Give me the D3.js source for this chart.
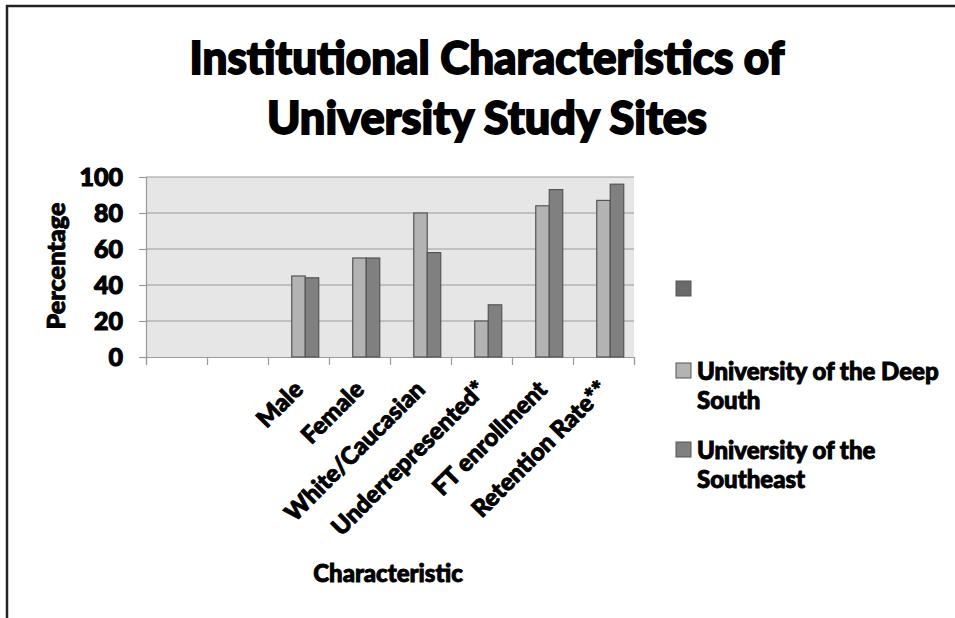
<!DOCTYPE html>
<html>
<head>
<meta charset="utf-8">
<script src="https://cdn.jsdelivr.net/npm/d3@7"></script>
<style>
  body { margin: 0; background: #fff; }
  text { font-family: Lato, "Open Sans", sans-serif; font-weight: 900; fill: #000; stroke: #000; stroke-width: 0.9px; }
</style>
</head>
<body>
<div id="chart"></div>
<script>
// data
var categories = ["", "", "Male", "Female", "White/Caucasian", "Underrepresented*", "FT enrollment", "Retention Rate**"];
var seriesNames = ["", "University of the Deep South", "University of the Southeast"];
var blankSeries = [null, null, null, null, null, null, null, null];
var deepSouth = [null, null, 45, 55, 80, 20, 84, 87];
var southeast = [null, null, 44, 55, 58, 29, 93, 96];
var yTicks = [0, 20, 40, 60, 80, 100];
var seriesColors = ["#6a6a6a", "#b3b3b3", "#808080"];

var width = 955, height = 618;
var margin = {top: 177, left: 146, right: 321, bottom: 261};

var svg = d3.select("#chart").append("svg")
    .attr("width", width)
    .attr("height", height);

// outer frame (only top and left show)
svg.append("path")
    .attr("d", "M7,618V6H955")
    .attr("fill", "none")
    .attr("stroke", "#222")
    .attr("stroke-width", 2.5);

// title
var title = ["Institutional Characteristics of", "University Study Sites"];
var titleLen = [595, 440];
svg.selectAll(".title").data(title).enter().append("text")
    .attr("class", "title")
    .attr("x", 487)
    .attr("y", function(d, i) { return 74 + i * 60; })
    .attr("text-anchor", "middle")
    .attr("font-size", 46)
    .style("stroke-width", "1.8px")
    .attr("textLength", function(d, i) { return titleLen[i]; })
    .attr("lengthAdjust", "spacingAndGlyphs")
    .text(function(d) { return d; });

var plotW = width - margin.left - margin.right,
    plotH = height - margin.top - margin.bottom;

var g = svg.append("g")
    .attr("transform", "translate(" + margin.left + "," + margin.top + ")");

var x = d3.scaleBand()
    .domain(d3.range(categories.length))
    .range([0, plotW])
    .padding(0);

var xs = d3.scaleBand()
    .domain(d3.range(seriesNames.length))
    .range([0, x.bandwidth()])
    .paddingInner(0)
    .paddingOuter(0.76);

var y = d3.scaleLinear()
    .domain([0, 100])
    .range([plotH, 0]);

g.append("rect")
    .attr("width", plotW)
    .attr("height", plotH)
    .attr("fill", "#e6e6e6");

// gridlines
g.append("g").selectAll("line")
    .data(yTicks.slice(1))
    .enter().append("line")
    .attr("x1", 0).attr("x2", plotW)
    .attr("y1", function(d) { return y(d); })
    .attr("y2", function(d) { return y(d); })
    .attr("stroke", "#9a9a9a")
    .attr("stroke-width", 1.2);

// y axis
var yAxis = g.append("g")
    .call(d3.axisLeft(y).tickValues(yTicks).tickSize(7).tickPadding(16));
yAxis.select(".domain").attr("stroke", "#9a9a9a").attr("stroke-width", 1.2);
yAxis.selectAll(".tick line").attr("stroke", "#9a9a9a").attr("stroke-width", 1.2);
yAxis.selectAll("text")
    .attr("font-size", 25)
    .attr("font-family", "Lato, sans-serif")
    .attr("font-weight", 900)
    .attr("fill", "#000")
    .style("stroke-width", "1.1px");

// x axis
var xAxis = g.append("g")
    .attr("transform", "translate(0," + plotH + ")")
    .call(d3.axisBottom(d3.scaleLinear().domain([0, categories.length]).range([0, plotW]))
        .ticks(categories.length).tickSize(8).tickFormat(""));
xAxis.select(".domain").attr("stroke", "#9a9a9a").attr("stroke-width", 1.2);
xAxis.selectAll(".tick line").attr("stroke", "#9a9a9a").attr("stroke-width", 1.2);

// rotated category labels
g.append("g").selectAll("text")
    .data(categories)
    .enter().append("text")
    .attr("text-anchor", "end")
    .attr("font-size", 24)
    .attr("transform", function(d, i) {
        return "translate(" + (x(i) + x.bandwidth() / 2 + 6) + "," + (plotH + 34) + ") rotate(-45)";
    })
    .text(function(d) { return d; });

// bars
var allSeries = [blankSeries, deepSouth, southeast];
allSeries.forEach(function(vals, si) {
    g.append("g").selectAll("rect")
        .data(vals.map(function(v, i) { return {i: i, v: v}; }).filter(function(d) { return d.v !== null; }))
        .enter().append("rect")
        .attr("x", function(d) { return x(d.i) + xs(si); })
        .attr("y", function(d) { return y(d.v); })
        .attr("width", xs.bandwidth())
        .attr("height", function(d) { return plotH - y(d.v); })
        .attr("fill", seriesColors[si])
        .attr("stroke", "#555")
        .attr("stroke-width", 1.2);
});

// axis titles
svg.append("text")
    .attr("transform", "translate(65,266) rotate(-90)")
    .attr("text-anchor", "middle")
    .attr("font-size", 24)
    .attr("textLength", 127)
    .attr("lengthAdjust", "spacingAndGlyphs")
    .text("Percentage");

svg.append("text")
    .attr("x", 388)
    .attr("y", 582)
    .attr("text-anchor", "middle")
    .attr("font-size", 24)
    .text("Characteristic");

// legend
var legendLines = [[""], ["University of the Deep", "South"], ["University of the", "Southeast"]];
var legendTop = [281, 363, 442];
var legend = svg.append("g");
seriesNames.forEach(function(name, si) {
    legend.append("rect")
        .attr("x", 676)
        .attr("y", legendTop[si])
        .attr("width", 15)
        .attr("height", 15)
        .attr("fill", seriesColors[si])
        .attr("stroke", "#555")
        .attr("stroke-width", 1);
    legend.selectAll(".l" + si)
        .data(legendLines[si])
        .enter().append("text")
        .attr("x", 697)
        .attr("y", function(d, j) { return legendTop[si] + 17 + j * 29; })
        .attr("font-size", 24)
        .text(function(d) { return d; });
});
</script>
</body>
</html>
